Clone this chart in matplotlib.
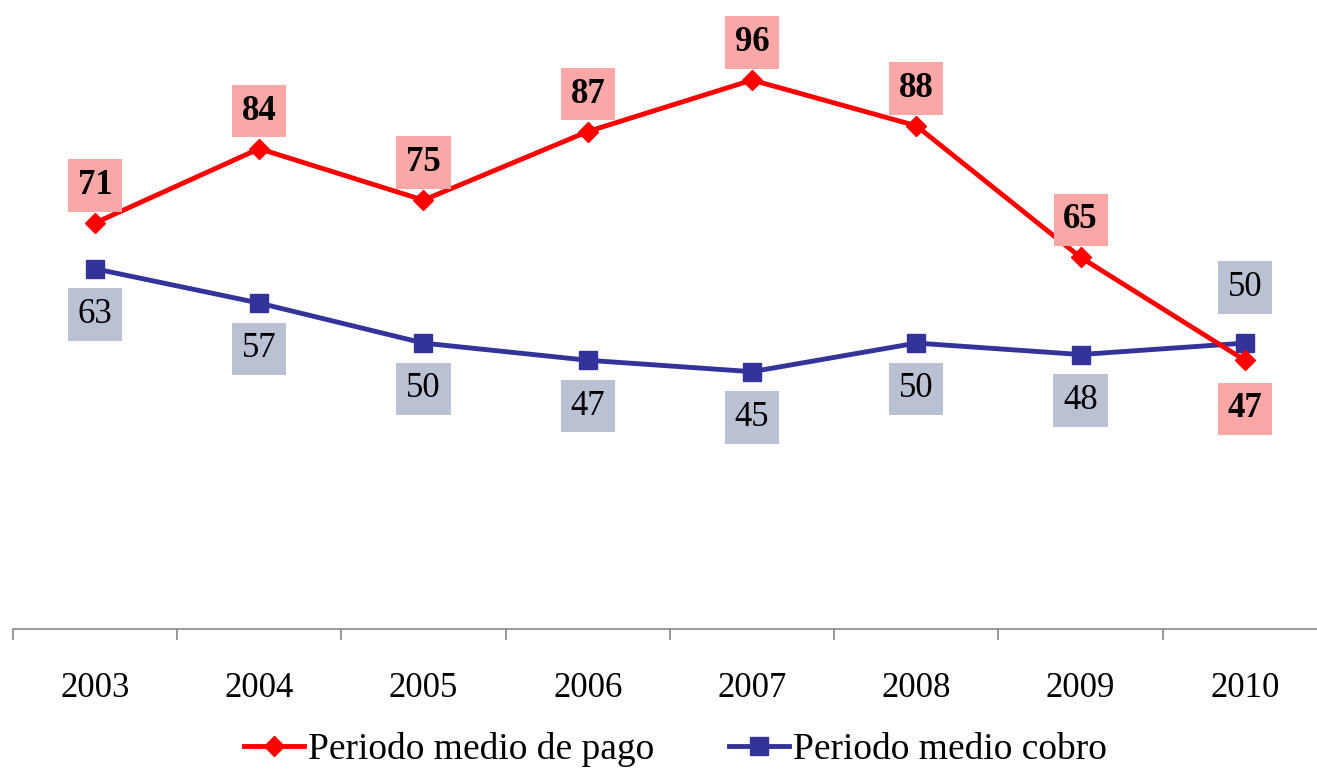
import numpy as np
import matplotlib.pyplot as plt

# data
years = ['2003', '2004', '2005', '2006', '2007', '2008', '2009', '2010']
pago = [71, 84, 75, 87, 96, 88, 65, 47]
cobro = [63, 57, 50, 47, 45, 50, 48, 50]

plt.rcParams['font.family'] = ['Liberation Serif', 'DejaVu Serif']

W, H = 1317, 779
fig = plt.figure(figsize=(W / 100, H / 100), dpi=100)
ax = fig.add_axes([12.8 / W, 150 / H, (1327 - 12.8) / W, 629 / H])

x = np.arange(len(years))
ax.plot(x, pago, color='#FF0000', lw=3.5, marker='D', ms=10, label='Periodo medio de pago', zorder=3)
ax.plot(x, cobro, color='#333399', lw=3.5, marker='s', ms=13, label='Periodo medio cobro', zorder=2)

# data labels
for i in range(len(years)):
    up = pago[i] >= cobro[i]
    ax.annotate(str(pago[i]), (x[i], pago[i]), xytext=(0, 27 if up else -35),
                textcoords='offset points', ha='center', va='center',
                fontsize=25, fontweight='bold',
                bbox=dict(boxstyle='square,pad=0.28', fc='#F9A7A7', ec='none'))
    ax.annotate(str(cobro[i]), (x[i], cobro[i]), xytext=(0, -33 if up else 40),
                textcoords='offset points', ha='center', va='center',
                fontsize=25,
                bbox=dict(boxstyle='square,pad=0.28', fc='#B9C1D3', ec='none'))

ax.set_xlim(-0.5, 7.5)
ax.set_ylim(0, 110)
ax.set_yticks([])
for s in ['top', 'right', 'left']:
    ax.spines[s].set_visible(False)
ax.spines['bottom'].set_color('#888888')
ax.spines['bottom'].set_linewidth(1.2)

ax.set_xticks(x)
ax.set_xticklabels(years, fontsize=25)
ax.tick_params(axis='x', which='major', length=0, pad=31)
ax.set_xticks(np.arange(-0.5, 8, 1), minor=True)
ax.tick_params(axis='x', which='minor', length=8, width=1.2, color='#888888', direction='out')

fig.legend(loc='lower center', bbox_to_anchor=(0.513, -0.028), ncol=2, frameon=False,
           fontsize=27, handlelength=1.6, handletextpad=0.1, columnspacing=2.0)

fig.savefig('out.png', dpi=100)
